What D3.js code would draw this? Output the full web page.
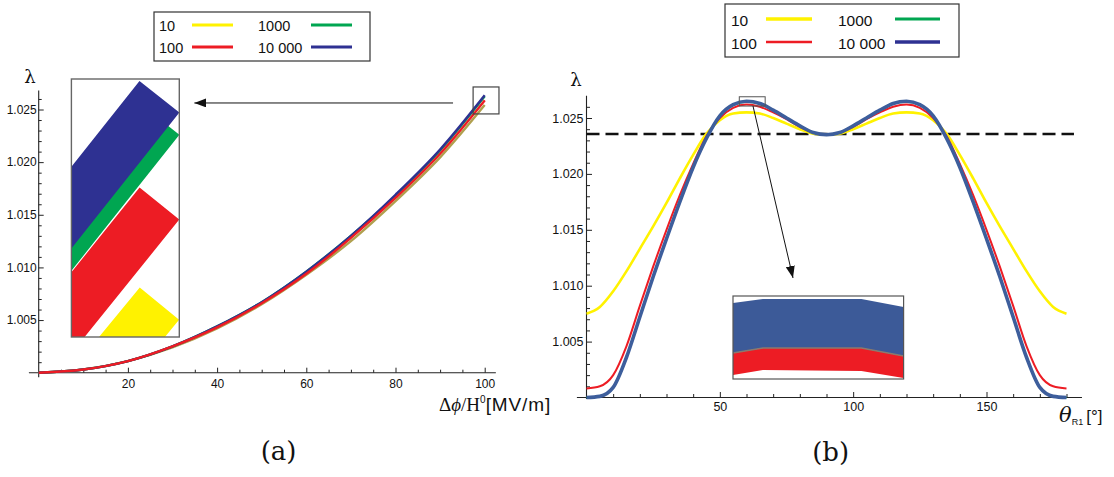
<!DOCTYPE html>
<html>
<head>
<meta charset="utf-8">
<script src="https://cdnjs.cloudflare.com/ajax/libs/d3/7.8.5/d3.min.js"></script>
<style>
    body { margin: 0; background: #fff; }
    svg { display: block; }
    text { fill: #111; }
</style>
</head>
<body>
<div class="chart"></div>
<script>
// ---- data ----
var seriesNames = ['10', '100', '1000', '10 000'];

// panel (a): lambda vs field
var fieldA = [0, 10, 20, 30, 40, 50, 60, 70, 80, 90, 100];
var lambdaA10 = [1.0000, 1.0003, 1.0011, 1.0024, 1.0042, 1.0065, 1.0093, 1.0125, 1.0163, 1.02045, 1.02542];
var lambdaA100 = [1.0000, 1.0003, 1.0011, 1.0025, 1.0043, 1.0066, 1.0094, 1.0128, 1.0166, 1.0208, 1.02587];
var lambdaA1000 = [1.0000, 1.0003, 1.0011, 1.0025, 1.0044, 1.0067, 1.0096, 1.0130, 1.0168, 1.0211, 1.02625];
var lambdaA10000 = [1.0000, 1.0003, 1.0011, 1.0025, 1.0044, 1.0067, 1.0096, 1.0130, 1.0169, 1.0212, 1.02635];
var ticksAx = [20, 40, 60, 80, 100];
var ticksAy = [1.005, 1.010, 1.015, 1.020, 1.025];

// panel (b): lambda vs theta
var thetaB = [0, 5, 10, 15, 20, 25, 30, 35, 40, 45, 50, 55, 60, 65, 70, 75, 80, 85, 90,
    95, 100, 105, 110, 115, 120, 125, 130, 135, 140, 145, 150, 155, 160, 165, 170, 175, 180];
var lambdaB10 = [1.0075, 1.0081, 1.0095, 1.0113, 1.0133, 1.0153, 1.0174, 1.0196, 1.0217, 1.0236, 1.0248, 1.0254, 1.0255, 1.0254, 1.0250, 1.0245, 1.0240, 1.0236, 1.0235,
    1.0236, 1.0240, 1.0245, 1.0250, 1.0254, 1.0255, 1.0254, 1.0248, 1.0236, 1.0217, 1.0196, 1.0174, 1.0153, 1.0133, 1.0113, 1.0095, 1.0081, 1.0075];
var lambdaB100 = [1.0008, 1.0010, 1.0020, 1.0046, 1.0082, 1.0117, 1.0150, 1.0181, 1.0209, 1.0234, 1.0250, 1.0259, 1.0262, 1.0260, 1.0255, 1.0249, 1.0242, 1.0237, 1.0235,
    1.0237, 1.0242, 1.0249, 1.0255, 1.0260, 1.0262, 1.0259, 1.0250, 1.0234, 1.0209, 1.0181, 1.0150, 1.0117, 1.0082, 1.0046, 1.0020, 1.0010, 1.0008];
var lambdaB1000 = [1.0000, 1.0001, 1.0009, 1.0036, 1.0072, 1.0108, 1.0142, 1.0175, 1.0206, 1.0232, 1.0252, 1.02615, 1.02645, 1.0263, 1.0257, 1.0250, 1.0243, 1.0237, 1.0235,
    1.0237, 1.0243, 1.0250, 1.0257, 1.0263, 1.02645, 1.02615, 1.0252, 1.0232, 1.0206, 1.0175, 1.0142, 1.0108, 1.0072, 1.0036, 1.0009, 1.0001, 1.0000];
var lambdaB10000 = [1.0000, 1.0001, 1.0009, 1.0036, 1.0072, 1.0108, 1.0142, 1.0175, 1.0206, 1.0232, 1.0252, 1.0262, 1.0265, 1.0263, 1.0257, 1.0250, 1.0243, 1.0237, 1.0235,
    1.0237, 1.0243, 1.0250, 1.0257, 1.0263, 1.0265, 1.0262, 1.0252, 1.0232, 1.0206, 1.0175, 1.0142, 1.0108, 1.0072, 1.0036, 1.0009, 1.0001, 1.0000];
var ticksBx = [50, 100, 150];
var ticksBy = [1.005, 1.010, 1.015, 1.020, 1.025];
var thresholdB = 1.02357;

// magnified windows
var boxAx = [97.4, 103.2], boxAy = [1.02458, 1.02714];
var insetAx = [99.07, 100.21], insetAy = [1.02527, 1.02643];
var boxBx = [57.3, 67.0], boxBy = [1.02607, 1.02690];
var insetBtheta = [57.3, 59.0, 64.6, 67.0];
var insetBblueTop = [1.02683, 1.02687, 1.02687, 1.02679];
var insetBblueBottom = [1.02633, 1.02638, 1.02638, 1.02630];
var insetBredBottom = [1.02611, 1.02616, 1.02615, 1.02608];

// ---- drawing ----
var SANS = '"Liberation Sans", Arial, sans-serif';
var SERIF = '"Liberation Serif", "DejaVu Serif", serif';
var GREEK = '"DejaVu Serif", serif';

var svg = d3.select('.chart').append('svg').attr('width', 1114).attr('height', 477)
    .style('font-family', SANS);

var xA = d3.scaleLinear().domain([0, 100]).range([38.7, 484.7]);
var yA = d3.scaleLinear().domain([1, 1.025]).range([372.7, 109.5]);
var xB = d3.scaleLinear().domain([0, 180]).range([586.5, 1066.5]);
var yB = d3.scaleLinear().domain([1, 1.025]).range([397.5, 118]);

var seriesA = [lambdaA10, lambdaA100, lambdaA1000, lambdaA10000];
var seriesB = [lambdaB10, lambdaB100, lambdaB1000, lambdaB10000];

function drawAxes(x, y, o) {
    var gx = svg.append('g').attr('transform', 'translate(0,' + y(1) + ')');
    gx.append('line').attr('x1', x(o.xFrom)).attr('x2', x(o.xTo))
        .attr('stroke', '#222').attr('stroke-width', 1.1);
    gx.append('g').call(d3.axisBottom(x).tickValues(o.xMinor).tickSize(-o.minor).tickFormat(''));
    gx.append('g').call(d3.axisBottom(x).tickValues(o.xTicks).tickSize(-o.major)
        .tickPadding(o.xPad).tickFormat(d3.format('d')));

    var gy = svg.append('g').attr('transform', 'translate(' + x(0) + ',0)');
    gy.append('line').attr('y1', y(1) + o.yBelow).attr('y2', y(o.yTo))
        .attr('stroke', '#222').attr('stroke-width', 1.1);
    gy.append('g').call(d3.axisLeft(y).tickValues(o.yMinor).tickSize(-o.minor).tickFormat(''));
    gy.append('g').call(d3.axisLeft(y).tickValues(o.yTicks).tickSize(-o.major)
        .tickPadding(o.yPad).tickFormat(d3.format('.3f')));

    [gx, gy].forEach(function (g) {
        g.selectAll('.domain').remove();
        g.selectAll('.tick line').attr('stroke', '#222').attr('stroke-width', 1);
        g.selectAll('.tick text').attr('font-size', o.font).attr('fill', '#111')
            .style('font-family', SANS);
    });
}

function minorTicks(from, to, step, majors) {
    return d3.range(from, to + step / 2, step).filter(function (v) {
        return !majors.some(function (m) { return Math.abs(m - v) < step / 10; });
    });
}

function drawLegend(c) {
    svg.append('rect').attr('x', c.x).attr('y', c.y).attr('width', c.w).attr('height', c.h)
        .attr('fill', '#fff').attr('stroke', '#333').attr('stroke-width', 1.2);
    seriesNames.forEach(function (name, i) {
        var col = i < 2 ? 0 : 1;
        var row = i % 2;
        svg.append('text').attr('x', c.textX[col]).attr('y', c.rowY[row]).attr('dy', '0.36em')
            .attr('font-size', c.font).text(name);
        svg.append('line').attr('x1', c.lineX[col][0]).attr('x2', c.lineX[col][1])
            .attr('y1', c.rowY[row] - 1).attr('y2', c.rowY[row] - 1)
            .attr('stroke', c.colors[i]).attr('stroke-width', c.widths[i]);
    });
}

function arrowHead(id, len, half) {
    svg.append('defs').append('marker').attr('id', id)
        .attr('markerUnits', 'userSpaceOnUse').attr('markerWidth', len).attr('markerHeight', half * 2)
        .attr('refX', len).attr('refY', half).attr('orient', 'auto')
        .append('path').attr('d', 'M0,0L' + len + ',' + half + 'L0,' + half * 2 + 'Z').attr('fill', '#111');
}

// ---------- panel (a) ----------
var colorsA = ['#b0a04e', '#ed1c24', '#00a651', '#2e3192'];
var insetColorsA = ['#fff200', '#ed1c24', '#00a651', '#2e3192'];
var orderA = [0, 2, 3, 1];
var widthA = 2.4;

drawAxes(xA, yA, {
    xFrom: -2.2, xTo: 102.5, xTicks: ticksAx, xMinor: minorTicks(5, 100, 5, ticksAx),
    yBelow: 4.5, yTo: 1.0268, yTicks: ticksAy, yMinor: minorTicks(1.001, 1.026, 0.001, ticksAy),
    major: 5, minor: 3, xPad: 7, yPad: 2, font: 12
});

var lineA = d3.line()
    .x(function (d, i) { return xA(fieldA[i]); })
    .y(function (d) { return yA(d); })
    .curve(d3.curveMonotoneX);

orderA.forEach(function (k) {
    svg.append('path').attr('d', lineA(seriesA[k])).attr('fill', 'none')
        .attr('stroke', colorsA[k]).attr('stroke-width', widthA);
});

// small box on the curve ends
svg.append('rect')
    .attr('x', xA(boxAx[0])).attr('y', yA(boxAy[1]))
    .attr('width', xA(boxAx[1]) - xA(boxAx[0])).attr('height', yA(boxAy[0]) - yA(boxAy[1]))
    .attr('fill', 'none').attr('stroke', '#444').attr('stroke-width', 1.2);

// magnified inset
var ixA = d3.scaleLinear().domain(insetAx).range([71.4, 179.3]);
var iyA = d3.scaleLinear().domain(insetAy).range([337, 79]);
var zoomA = (ixA(1) - ixA(0)) / (xA(1) - xA(0));

svg.append('defs').append('clipPath').attr('id', 'clipA').append('rect')
    .attr('x', ixA.range()[0]).attr('y', iyA.range()[1])
    .attr('width', ixA.range()[1] - ixA.range()[0]).attr('height', iyA.range()[0] - iyA.range()[1]);

svg.append('rect').attr('x', 71.4).attr('y', 79).attr('width', 107.9).attr('height', 258).attr('fill', '#fff');

var insetLineA = d3.line()
    .x(function (d, i) { return ixA(fieldA[i]); })
    .y(function (d) { return iyA(d); })
    .curve(d3.curveMonotoneX);

var gInsetA = svg.append('g').attr('clip-path', 'url(#clipA)');
orderA.forEach(function (k) {
    gInsetA.append('path').attr('d', insetLineA(seriesA[k])).attr('fill', 'none')
        .attr('stroke', insetColorsA[k]).attr('stroke-width', widthA * zoomA)
        .attr('stroke-linecap', 'butt');
});
svg.append('rect').attr('x', 71.4).attr('y', 79).attr('width', 107.9).attr('height', 258)
    .attr('fill', 'none').attr('stroke', '#666').attr('stroke-width', 1.4);

// arrow to the inset
arrowHead('headA', 12, 4.5);
svg.append('line')
    .attr('x1', xA(92.9)).attr('y1', yA(1.02562))
    .attr('x2', xA(34.9)).attr('y2', yA(1.02562))
    .attr('stroke', '#111').attr('stroke-width', 1).attr('marker-end', 'url(#headA)');

drawLegend({
    x: 154, y: 12, w: 216, h: 49, textX: [159, 258], lineX: [[192, 233], [311, 352]],
    rowY: [26, 48], font: 14.5, colors: insetColorsA, widths: [3, 3, 3, 3]
});

svg.append('text').attr('x', 30).attr('y', 83).attr('text-anchor', 'middle')
    .style('font-family', GREEK).attr('font-size', 18).text('λ');

var labA = svg.append('text').attr('x', 439).attr('y', 411);
labA.append('tspan').style('font-family', SERIF).attr('font-size', 19).text('Δ');
labA.append('tspan').style('font-family', SERIF).attr('font-size', 19)
    .attr('font-style', 'italic').text('ϕ');
labA.append('tspan').style('font-family', SERIF).attr('font-size', 19).text('/H');
labA.append('tspan').attr('font-size', 10).attr('dy', -8).text('0');
labA.append('tspan').attr('font-size', 19).attr('dy', 8).attr('letter-spacing', 0.9).text('[MV/m]');

svg.append('text').attr('x', 278.6).attr('y', 460).attr('text-anchor', 'middle')
    .style('font-family', '"DejaVu Serif", serif').attr('font-size', 26).text('(a)');

// ---------- panel (b) ----------
var colorsB = ['#fff200', '#ed1c24', '#00a651', '#3d5e9c'];
var widthsB = [2.6, 2, 2, 3.6];

drawAxes(xB, yB, {
    xFrom: -3.6, xTo: 185.8, xTicks: ticksBx, xMinor: minorTicks(10, 180, 10, ticksBx),
    yBelow: 1.5, yTo: 1.027, yTicks: ticksBy, yMinor: minorTicks(1.001, 1.026, 0.001, ticksBy),
    major: 5.5, minor: 3.5, xPad: 4.5, yPad: 3, font: 12.5
});

svg.append('line')
    .attr('x1', xB(0)).attr('x2', xB(182.8))
    .attr('y1', yB(thresholdB)).attr('y2', yB(thresholdB))
    .attr('stroke', '#111').attr('stroke-width', 2.6).attr('stroke-dasharray', '13,6');

var lineB = d3.line()
    .x(function (d, i) { return xB(thetaB[i]); })
    .y(function (d) { return yB(d); })
    .curve(d3.curveMonotoneX);

seriesB.forEach(function (s, k) {
    svg.append('path').attr('d', lineB(s)).attr('fill', 'none')
        .attr('stroke', colorsB[k]).attr('stroke-width', widthsB[k]);
});

svg.append('rect')
    .attr('x', xB(boxBx[0])).attr('y', yB(boxBy[1]))
    .attr('width', xB(boxBx[1]) - xB(boxBx[0])).attr('height', yB(boxBy[0]) - yB(boxBy[1]))
    .attr('fill', 'none').attr('stroke', '#555').attr('stroke-width', 1);

// magnified inset of the first peak
var ixB = d3.scaleLinear().domain(boxBx).range([733, 903.6]);
var iyB = d3.scaleLinear().domain(boxBy).range([379, 296]);

svg.append('rect').attr('x', 733).attr('y', 296).attr('width', 170.6).attr('height', 83).attr('fill', '#fff');

var bandB = function (top, bottom) {
    return d3.area()
        .x(function (d, i) { return ixB(insetBtheta[i]); })
        .y0(function (d, i) { return iyB(bottom[i]); })
        .y1(function (d, i) { return iyB(top[i]); })(insetBtheta);
};
svg.append('path').attr('d', bandB(insetBblueTop, insetBblueBottom)).attr('fill', '#3c5a98');
svg.append('path').attr('d', bandB(insetBblueBottom, insetBredBottom)).attr('fill', '#ed1c24');
svg.append('path')
    .attr('d', d3.line().x(function (d, i) { return ixB(insetBtheta[i]); }).y(function (d) { return iyB(d); })(insetBblueBottom))
    .attr('fill', 'none').attr('stroke', '#8a7a6e').attr('stroke-width', 1.3);
svg.append('rect').attr('x', 733).attr('y', 296).attr('width', 170.6).attr('height', 83)
    .attr('fill', 'none').attr('stroke', '#555').attr('stroke-width', 1.2);

arrowHead('headB', 12, 4.5);
svg.append('line')
    .attr('x1', xB(62.44)).attr('y1', yB(1.02607))
    .attr('x2', xB(77.44)).attr('y2', yB(1.01069))
    .attr('stroke', '#111').attr('stroke-width', 1).attr('marker-end', 'url(#headB)');

drawLegend({
    x: 725, y: 4, w: 234, h: 53, textX: [731, 838], lineX: [[766, 812], [895, 940]],
    rowY: [20, 43], font: 15.5, colors: ['#fff200', '#ed1c24', '#00a651', '#2e3192'], widths: [3.5, 2.5, 3, 3.5]
});

svg.append('text').attr('x', 576).attr('y', 86).attr('text-anchor', 'middle')
    .style('font-family', GREEK).attr('font-size', 18).text('λ');

var labB = svg.append('text').attr('x', 1059).attr('y', 422);
labB.append('tspan').style('font-family', GREEK).attr('font-style', 'italic')
    .attr('font-size', 21).text('θ');
labB.append('tspan').attr('font-size', 9).attr('dy', 3).text('R1');
labB.append('tspan').attr('font-size', 17).attr('dy', -3).attr('dx', 3).text('[°]');

svg.append('text').attr('x', 830.7).attr('y', 461).attr('text-anchor', 'middle')
    .style('font-family', '"DejaVu Serif", serif').attr('font-size', 26).text('(b)');
</script>
</body>
</html>
